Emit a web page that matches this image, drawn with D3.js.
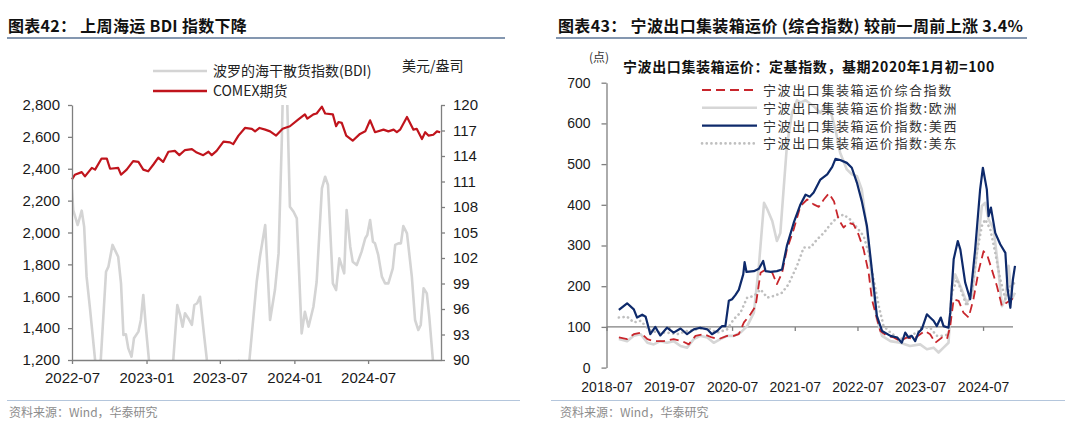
<!DOCTYPE html>
<html>
<head>
<meta charset="utf-8">
<script src="https://cdn.jsdelivr.net/npm/d3@7"></script>
<style>
body{margin:0;background:#fff;}
svg{font-family:"Liberation Sans",Arial,sans-serif;}
.cjk{font-family:"Noto Sans CJK SC",sans-serif;}
</style>
</head>
<body>
<div id="root"></div>
<script>
// ---------- left chart data ----------
const bdiDates = ["2022-07-01","2022-07-04","2022-07-15","2022-07-25","2022-07-31","2022-08-06","2022-08-14","2022-08-27","2022-09-03","2022-09-10","2022-09-23","2022-09-29","2022-10-09","2022-10-23","2022-10-30","2022-11-05","2022-11-11","2022-11-17","2022-11-25","2022-12-01","2022-12-12","2022-12-18","2022-12-24","2022-12-31","2023-01-07","2023-01-17","2023-01-29","2023-02-11","2023-02-23","2023-03-02","2023-03-08","2023-03-18","2023-03-25","2023-03-31","2023-04-06","2023-04-14","2023-04-23","2023-04-29","2023-05-06","2023-05-13","2023-05-23","2023-05-30","2023-06-12","2023-07-02","2023-07-26","2023-08-17","2023-08-30","2023-09-12","2023-09-30","2023-10-08","2023-10-21","2023-11-02","2023-11-14","2023-11-23","2023-12-01","2023-12-05","2023-12-12","2023-12-21","2023-12-30","2024-01-07","2024-01-19","2024-01-27","2024-02-05","2024-02-17","2024-02-25","2024-03-09","2024-03-17","2024-03-24","2024-04-05","2024-04-13","2024-04-21","2024-05-03","2024-05-09","2024-05-18","2024-05-24","2024-06-03","2024-06-15","2024-06-24","2024-06-29","2024-07-06","2024-07-13","2024-07-18","2024-07-26","2024-08-04","2024-08-12","2024-08-20","2024-08-31","2024-09-06","2024-09-14","2024-09-20","2024-09-26","2024-10-05","2024-10-17","2024-10-25","2024-11-02","2024-11-08","2024-11-15","2024-11-23","2024-11-29","2024-12-08","2024-12-11"];
const bdiValues = [2267,2141,2047,2137,2037,1723,1534,1200,1050,1200,1754,1786,1922,1848,1681,1357,1361,1273,1221,1336,1378,1451,1608,1388,1200,900,650,600,800,1100,1200,1545,1482,1409,1493,1462,1420,1545,1556,1597,1357,1200,1000,1050,1100,1195,1120,1200,1691,1848,2047,1451,1639,1869,2580,3050,3050,2162,2130,2089,1367,1503,1409,1534,1691,2277,2350,2298,1681,1639,1838,1744,2141,1911,1817,1796,1880,1964,1984,2078,1942,1932,1859,1723,1681,1681,1775,1922,1932,1932,2041,1995,1723,1451,1388,1420,1650,1618,1472,1200,1150];

const comexDates = ["2022-07-01","2022-07-08","2022-07-25","2022-08-02","2022-08-19","2022-08-27","2022-09-12","2022-09-25","2022-10-03","2022-10-23","2022-10-30","2022-11-13","2022-11-29","2022-12-12","2022-12-24","2023-01-05","2023-01-18","2023-01-30","2023-02-11","2023-02-24","2023-03-12","2023-03-23","2023-04-06","2023-04-23","2023-05-05","2023-05-21","2023-06-03","2023-06-11","2023-06-23","2023-07-10","2023-07-26","2023-08-03","2023-08-16","2023-09-01","2023-09-18","2023-09-26","2023-10-07","2023-10-21","2023-11-02","2023-11-17","2023-12-03","2023-12-21","2024-01-11","2024-01-27","2024-02-02","2024-02-17","2024-02-25","2024-03-09","2024-03-17","2024-04-05","2024-04-13","2024-04-19","2024-04-27","2024-05-08","2024-05-24","2024-06-11","2024-06-24","2024-07-06","2024-07-18","2024-08-08","2024-08-20","2024-09-02","2024-09-10","2024-09-18","2024-10-05","2024-10-21","2024-10-29","2024-11-11","2024-11-19","2024-11-27","2024-12-09","2024-12-18","2024-12-26"];
const comexValues = [111.25,111.8,112.1,111.6,112.6,112.4,113.7,113.7,112.5,112.6,111.8,112.4,113.4,113.3,112.4,112.2,113.0,113.8,113.3,114.5,114.6,114.1,114.7,114.8,114.4,114.1,114.5,114.1,114.6,115.7,115.6,115.4,116.4,117.3,117.2,116.9,117.3,117.1,116.9,116.4,117.2,117.5,118.3,118.9,118.4,118.9,119.0,119.8,119.0,118.9,117.5,118.0,117.9,116.4,115.8,116.6,116.9,118.2,116.8,117.1,116.9,117.1,116.8,117.1,118.6,117.1,117.2,116.0,116.8,116.4,116.5,116.9,116.8];

const leftTicks = [1200,1400,1600,1800,2000,2200,2400,2600,2800];
const rightTicks = [90,93,96,99,102,105,108,111,114,117,120];
const leftXTicks = ["2022-07-01","2023-01-01","2023-07-01","2024-01-01","2024-07-01"];

// ---------- right chart data ----------
const compDates = ["2018-09-11","2018-10-29","2018-12-07","2019-01-16","2019-02-24","2019-04-02","2019-05-29","2019-07-27","2019-09-14","2019-10-23","2019-12-01","2020-01-19","2020-03-06","2020-04-14","2020-06-02","2020-07-11","2020-08-09","2020-09-08","2020-10-16","2020-11-15","2020-12-14","2021-01-12","2021-02-20","2021-03-19","2021-04-18","2021-05-16","2021-06-25","2021-08-03","2021-09-11","2021-10-19","2021-11-18","2021-12-17","2022-01-15","2022-02-14","2022-03-13","2022-04-11","2022-05-10","2022-06-08","2022-07-07","2022-08-06","2022-09-04","2022-09-23","2022-10-13","2022-11-11","2022-12-20","2023-01-28","2023-03-06","2023-04-14","2023-05-23","2023-07-01","2023-07-29","2023-08-28","2023-09-27","2023-11-05","2023-12-04","2023-12-23","2024-01-12","2024-02-10","2024-03-09","2024-04-08","2024-05-06","2024-06-05","2024-07-04","2024-07-27","2024-08-21","2024-09-20","2024-10-19","2024-11-17","2024-12-16","2025-01-03"];
const compValues = [74,70,82,86,70,65,65,70,65,57,78,82,74,70,78,78,82,111,131,151,233,241,233,205,233,290,340,397,413,401,395,413,428,409,364,344,356,352,327,290,233,168,135,90,78,74,65,74,70,82,90,82,61,74,70,102,168,164,135,123,168,237,286,274,241,200,151,160,168,180];

const euDates = ["2018-09-11","2018-10-29","2018-12-07","2019-01-16","2019-02-24","2019-04-02","2019-05-10","2019-06-18","2019-07-27","2019-09-05","2019-10-13","2019-11-21","2019-12-28","2020-02-08","2020-03-16","2020-04-24","2020-06-02","2020-07-11","2020-08-19","2020-09-27","2020-11-05","2020-12-04","2021-01-03","2021-01-22","2021-02-20","2021-03-19","2021-04-08","2021-04-27","2021-05-16","2021-06-15","2021-07-14","2021-08-03","2021-09-02","2021-10-19","2021-11-27","2021-12-26","2022-01-25","2022-02-23","2022-03-22","2022-04-30","2022-05-29","2022-06-28","2022-07-26","2022-08-25","2022-09-23","2022-10-22","2022-11-21","2023-01-09","2023-03-06","2023-05-03","2023-07-01","2023-08-09","2023-09-17","2023-10-16","2023-11-14","2023-12-13","2024-01-02","2024-01-21","2024-02-20","2024-03-28","2024-04-27","2024-05-26","2024-06-24","2024-07-14","2024-08-02","2024-09-01","2024-09-30","2024-10-19","2024-11-08","2024-11-27","2024-12-16","2025-01-03"];
const euValues = [70,65,78,82,61,57,65,61,65,53,49,70,78,74,61,70,78,78,86,102,135,250,405,389,360,311,331,438,544,626,657,651,657,642,626,642,630,585,528,487,475,470,438,340,217,119,78,65,61,53,57,45,49,37,49,61,200,229,200,160,176,282,397,405,364,340,233,151,168,250,168,184];

const westDates = ["2018-09-11","2018-10-29","2018-12-07","2018-12-26","2019-01-25","2019-02-14","2019-03-13","2019-04-11","2019-05-10","2019-06-18","2019-07-27","2019-09-05","2019-10-13","2019-11-21","2019-12-28","2020-02-08","2020-03-06","2020-04-05","2020-05-04","2020-05-23","2020-06-12","2020-07-01","2020-07-20","2020-08-09","2020-09-04","2020-09-12","2020-09-23","2020-11-05","2020-12-04","2020-12-29","2021-01-12","2021-02-11","2021-03-19","2021-04-18","2021-05-16","2021-06-25","2021-08-03","2021-09-02","2021-09-26","2021-10-19","2021-11-27","2022-01-06","2022-02-04","2022-02-23","2022-03-22","2022-04-30","2022-05-29","2022-06-28","2022-07-26","2022-08-25","2022-09-14","2022-10-03","2022-10-22","2022-11-21","2023-01-09","2023-02-17","2023-03-16","2023-04-05","2023-04-24","2023-05-13","2023-06-02","2023-06-21","2023-07-10","2023-08-09","2023-08-28","2023-09-17","2023-10-06","2023-10-29","2023-11-14","2023-12-13","2023-12-23","2024-01-12","2024-02-05","2024-02-20","2024-03-19","2024-04-17","2024-05-16","2024-06-14","2024-06-30","2024-07-23","2024-08-02","2024-08-16","2024-09-10","2024-10-09","2024-11-08","2024-11-21","2024-12-07","2024-12-22","2025-01-03"];
const westValues = [142,158,143,123,130,125,82,100,79,98,86,96,82,94,98,94,82,90,102,102,164,168,178,191,229,259,235,237,243,262,237,235,237,241,299,356,401,425,420,430,462,475,493,513,510,503,491,454,409,348,274,200,127,90,78,74,61,86,74,78,65,86,94,131,123,115,102,123,102,98,135,266,311,290,209,168,290,438,491,438,372,393,331,303,282,192,147,217,250];

const eastDates = ["2018-09-11","2018-10-29","2018-12-07","2019-01-16","2019-03-03","2019-04-21","2019-06-18","2019-08-16","2019-10-13","2019-12-10","2020-02-08","2020-04-05","2020-06-02","2020-07-11","2020-08-19","2020-09-27","2020-11-05","2020-12-14","2021-01-22","2021-02-28","2021-04-18","2021-05-26","2021-07-14","2021-08-22","2021-09-30","2021-11-08","2021-12-17","2022-01-25","2022-03-03","2022-04-11","2022-05-19","2022-06-28","2022-08-06","2022-09-04","2022-10-03","2022-11-02","2022-11-30","2023-01-09","2023-02-17","2023-03-25","2023-05-03","2023-06-11","2023-07-20","2023-08-28","2023-10-06","2023-11-14","2023-12-13","2024-01-02","2024-02-01","2024-02-29","2024-03-28","2024-04-27","2024-05-26","2024-06-24","2024-07-14","2024-08-12","2024-09-10","2024-10-09","2024-11-08","2024-12-07","2025-01-03"];
const eastValues = [123,125,111,115,94,86,86,82,90,94,98,86,94,119,135,172,176,192,172,176,184,205,250,295,295,315,331,352,368,376,364,344,323,282,217,151,102,86,74,70,78,86,98,98,78,78,82,184,217,184,151,184,282,348,364,340,282,217,168,200,209];

const rightYTicks = [0,100,200,300,400,500,600,700];
const rightXTicks = ["2018-07-01","2019-07-01","2020-07-01","2021-07-01","2022-07-01","2023-07-01","2024-07-01"];

const seriesNames = ["宁波出口集装箱运价综合指数","宁波出口集装箱运价指数:欧洲","宁波出口集装箱运价指数:美西","宁波出口集装箱运价指数:美东"];

const parse = d3.timeParse("%Y-%m-%d");
const zip = (ds, vs) => ds.map((d, i) => ({date: parse(d), value: vs[i]}));

const W = 1080, H = 425;
const svg = d3.select("#root").append("svg")
    .attr("width", W).attr("height", H);

const axisColor = "#7f7f7f";
function styleAxis(g, fs){
    g.select(".domain").attr("stroke", axisColor).attr("stroke-width", 1.3);
    g.selectAll(".tick line").attr("stroke", axisColor).attr("stroke-width", 1.3);
    g.selectAll(".tick text").attr("fill", "#1a1a1a").attr("font-size", fs)
        .attr("font-family", "'Liberation Sans',Arial,sans-serif");
}

// titles & frame lines
svg.append("text").attr("class","cjk").attr("x", 8).attr("y", 32)
    .attr("font-size", 16).attr("font-weight", "bold").attr("fill", "#111")
    .attr("letter-spacing", 0.3)
    .text("图表42：  上周海运 BDI 指数下降");
svg.append("text").attr("class","cjk").attr("x", 558).attr("y", 32)
    .attr("font-size", 16).attr("font-weight", "bold").attr("fill", "#111")
    .attr("letter-spacing", 0.35)
    .text("图表43：  宁波出口集装箱运价 (综合指数) 较前一周前上涨 3.4%");
svg.append("line").attr("x1", 7).attr("x2", 505).attr("y1", 38).attr("y2", 38)
    .attr("stroke", "#8497b0").attr("stroke-width", 2);
svg.append("line").attr("x1", 556).attr("x2", 1027).attr("y1", 38).attr("y2", 38)
    .attr("stroke", "#8497b0").attr("stroke-width", 2);
svg.append("line").attr("x1", 7).attr("x2", 520).attr("y1", 400.5).attr("y2", 400.5)
    .attr("stroke", "#b4c6dc").attr("stroke-width", 1.2);
svg.append("line").attr("x1", 551).attr("x2", 1065).attr("y1", 400.5).attr("y2", 400.5)
    .attr("stroke", "#b4c6dc").attr("stroke-width", 1.2);
svg.append("text").attr("class","cjk").attr("x", 9).attr("y", 417)
    .attr("font-size", 12).attr("fill", "#8c8c8c").text("资料来源：Wind，华泰研究");
svg.append("text").attr("class","cjk").attr("x", 560).attr("y", 417)
    .attr("font-size", 12).attr("fill", "#8c8c8c").text("资料来源：Wind，华泰研究");

// ---------- left chart ----------
const L = {x0: 72, x1: 441, y0: 105, y1: 360};
const xL = d3.scaleTime().domain([parse("2022-07-01"), parse("2024-12-28")]).range([L.x0, L.x1]);
const yL = d3.scaleLinear().domain([1200, 2800]).range([L.y1, L.y0]);
const yR = d3.scaleLinear().domain([90, 120]).range([L.y1, L.y0]);

svg.append("clipPath").attr("id", "clipL").append("rect")
    .attr("x", L.x0).attr("y", L.y0).attr("width", L.x1 - L.x0).attr("height", L.y1 - L.y0);

svg.append("path").datum(zip(bdiDates, bdiValues))
    .attr("clip-path", "url(#clipL)")
    .attr("fill", "none").attr("stroke", "#d4d4d4").attr("stroke-width", 2.6)
    .attr("stroke-linejoin", "round")
    .attr("d", d3.line().x(d => xL(d.date)).y(d => yL(d.value)));

svg.append("path").datum(zip(comexDates, comexValues))
    .attr("fill", "none").attr("stroke", "#c0141c").attr("stroke-width", 2.2)
    .attr("stroke-linejoin", "round")
    .attr("d", d3.line().x(d => xL(d.date)).y(d => yR(d.value)));

const gLy = svg.append("g").attr("transform", `translate(${L.x0},0)`)
    .call(d3.axisLeft(yL).tickValues(leftTicks).tickFormat(d3.format(",")).tickSize(4).tickSizeOuter(0).tickPadding(8));
styleAxis(gLy, 15);
const gRy = svg.append("g").attr("transform", `translate(${L.x1},0)`)
    .call(d3.axisRight(yR).tickValues(rightTicks).tickSize(4).tickSizeOuter(0).tickPadding(8));
styleAxis(gRy, 15);
const gLx = svg.append("g").attr("transform", `translate(0,${L.y1})`)
    .call(d3.axisBottom(xL).tickValues(leftXTicks.map(parse)).tickFormat(d3.timeFormat("%Y-%m"))
        .tickSize(4).tickSizeOuter(0).tickPadding(8));
styleAxis(gLx, 15);

// left legend
const legL = [{name: "波罗的海干散货指数(BDI)", color: "#d4d4d4", w: 2.6},
              {name: "COMEX期货", color: "#c0141c", w: 2.4}];
legL.forEach((d, i) => {
    const y = 71 + i * 20;
    svg.append("line").attr("x1", 153).attr("x2", 207).attr("y1", y).attr("y2", y)
        .attr("stroke", d.color).attr("stroke-width", d.w);
    svg.append("text").attr("class","cjk").attr("x", 213).attr("y", y + 5)
        .attr("font-size", 14).attr("fill", "#222").text(d.name);
});
svg.append("text").attr("class","cjk").attr("x", 402).attr("y", 71)
    .attr("font-size", 14).attr("fill", "#222").text("美元/盎司");

// ---------- right chart ----------
const R = {x0: 606.5, x1: 1015, y0: 82.7, y1: 367.6};
const xR = d3.scaleTime().domain([parse("2018-07-01"), parse("2025-01-03")]).range([R.x0, R.x1]);
const yP = d3.scaleLinear().domain([0, 700]).range([R.y1, R.y0]);

const gPy = svg.append("g").attr("transform", `translate(${R.x0},0)`)
    .call(d3.axisLeft(yP).tickValues(rightYTicks).tickSize(5).tickSizeOuter(0).tickPadding(11));
styleAxis(gPy, 14);

// baseline at 100 with ticks
const gPx = svg.append("g").attr("transform", `translate(0,${yP(100)})`)
    .call(d3.axisBottom(xR).tickValues(rightXTicks.map(parse)).tickFormat("")
        .tickSize(4).tickSizeOuter(0));
styleAxis(gPx, 14);
gPx.select(".domain").attr("d", `M${R.x0},0H${R.x1 - 2}`);
// labels at bottom
const gPl = svg.append("g").attr("transform", `translate(0,${R.y1})`)
    .call(d3.axisBottom(xR).tickValues(rightXTicks.map(parse)).tickFormat(d3.timeFormat("%Y-%m"))
        .tickSize(0).tickPadding(14));
styleAxis(gPl, 14);
gPl.select(".domain").remove();

const lineR = d3.line().x(d => xR(d.date)).y(d => yP(d.value));
const seriesR = [
    {data: zip(euDates, euValues), color: "#d6d6d6", w: 2.6, dash: null},
    {data: zip(eastDates, eastValues), color: "#bfbfbf", w: 2.6, dash: "0.1,4.6", cap: "round"},
    {data: zip(compDates, compValues), color: "#c8262c", w: 1.8, dash: "9,5"},
    {data: zip(westDates, westValues), color: "#0e2a6b", w: 2.2, dash: null}
];
seriesR.forEach(s => {
    svg.append("path").datum(s.data)
        .attr("fill", "none").attr("stroke", s.color).attr("stroke-width", s.w)
        .attr("stroke-dasharray", s.dash).attr("stroke-linecap", s.cap || "butt")
        .attr("stroke-linejoin", "round")
        .attr("d", lineR);
});

// right header texts
svg.append("text").attr("class","cjk").attr("x", 589).attr("y", 62)
    .attr("font-size", 12).attr("fill", "#333").text("(点)");
svg.append("text").attr("class","cjk").attr("x", 623).attr("y", 72)
    .attr("font-size", 14).attr("font-weight", "bold").attr("letter-spacing", 0.6)
    .attr("fill", "#111").text("宁波出口集装箱运价：定基指数，基期2020年1月初=100");

// right legend
const legStyle = [seriesR[2], seriesR[0], seriesR[3], seriesR[1]];
seriesNames.forEach((name, i) => {
    const y = 90 + i * 17.8;
    const s = legStyle[i];
    svg.append("line").attr("x1", 702).attr("x2", 757).attr("y1", y).attr("y2", y)
        .attr("stroke", s.color).attr("stroke-width", s.w)
        .attr("stroke-dasharray", s.dash).attr("stroke-linecap", s.cap || "butt");
    svg.append("text").attr("class","cjk").attr("x", 763).attr("y", y + 5)
        .attr("font-size", 13).attr("letter-spacing", 1.6).attr("fill", "#333").text(name);
});
</script>
</body>
</html>
